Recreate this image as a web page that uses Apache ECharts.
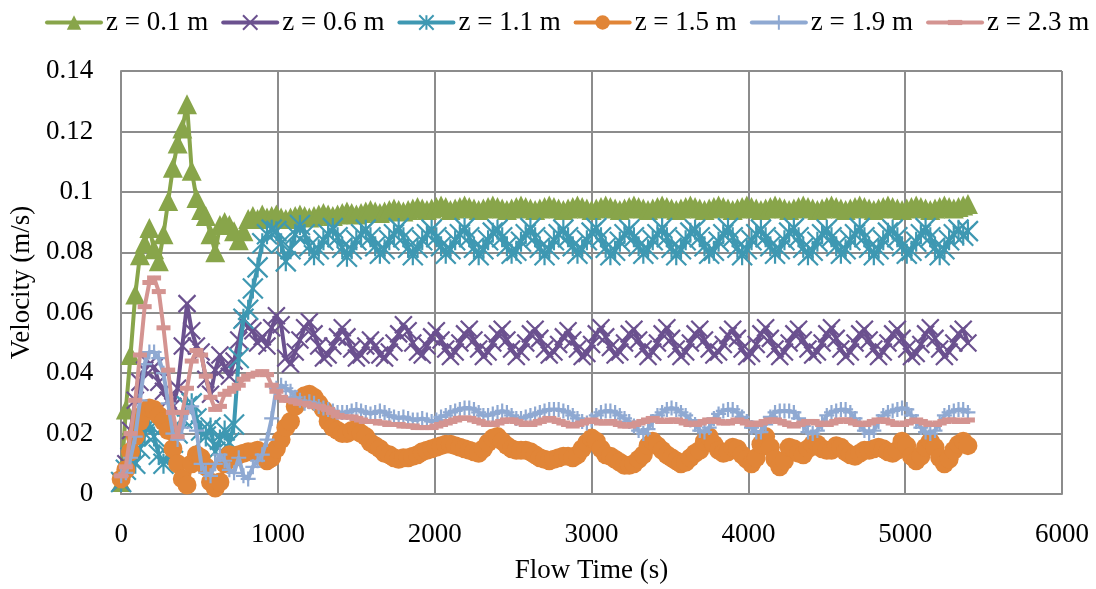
<!DOCTYPE html>
<html>
<head>
<meta charset="utf-8">
<script src="https://cdn.jsdelivr.net/npm/echarts@6/dist/echarts.min.js"></script>
<style>
html,body{margin:0;padding:0;background:#fff;}
#chart{width:1096px;height:589px;}
</style>
</head>
<body>
<div id="chart"></div>
<script>
// ---- DATA ----
const TIME_S = [
0,30,60,90,120,150,180,210,240,270,
300,330,360,390,420,450,480,510,540,570,
600,630,660,690,720,750,780,810,840,870,
900,930,960,990,1020,1050,1080,1110,1140,1170,
1200,1230,1260,1290,1320,1350,1380,1410,1440,1470,
1500,1530,1560,1590,1620,1650,1680,1710,1740,1770,
1800,1830,1860,1890,1920,1950,1980,2010,2040,2070,
2100,2130,2160,2190,2220,2250,2280,2310,2340,2370,
2400,2430,2460,2490,2520,2550,2580,2610,2640,2670,
2700,2730,2760,2790,2820,2850,2880,2910,2940,2970,
3000,3030,3060,3090,3120,3150,3180,3210,3240,3270,
3300,3330,3360,3390,3420,3450,3480,3510,3540,3570,
3600,3630,3660,3690,3720,3750,3780,3810,3840,3870,
3900,3930,3960,3990,4020,4050,4080,4110,4140,4170,
4200,4230,4260,4290,4320,4350,4380,4410,4440,4470,
4500,4530,4560,4590,4620,4650,4680,4710,4740,4770,
4800,4830,4860,4890,4920,4950,4980,5010,5040,5070,
5100,5130,5160,5190,5220,5250,5280,5310,5340,5370,
5400];

const SERIES_NAMES = ['z = 0.1 m','z = 0.6 m','z = 1.1 m','z = 1.5 m','z = 1.9 m','z = 2.3 m'];

const V_Z01 = [
0.004,0.028,0.046,0.066,0.079,0.083,0.088,0.081,0.077,0.086,
0.097,0.108,0.116,0.121,0.129,0.107,0.098,0.094,0.092,0.086,
0.080,0.089,0.090,0.089,0.087,0.084,0.087,0.091,0.092,0.091,
0.0925,0.0915,0.092,0.0925,0.0915,0.091,0.0915,0.092,0.0925,0.092,
0.0915,0.092,0.0925,0.093,0.0925,0.092,0.0925,0.093,0.0935,0.093,
0.0925,0.093,0.0935,0.094,0.0935,0.093,0.0935,0.094,0.0945,0.094,
0.0935,0.094,0.0945,0.095,0.0945,0.094,0.0945,0.095,0.0955,0.095,
0.094,0.0945,0.095,0.0955,0.095,0.0945,0.094,0.0945,0.095,0.0955,
0.095,0.0945,0.094,0.0945,0.095,0.0955,0.095,0.0945,0.094,0.0945,
0.095,0.0955,0.095,0.0945,0.094,0.0945,0.095,0.0955,0.095,0.0945,
0.094,0.0945,0.095,0.0955,0.095,0.0945,0.094,0.0945,0.095,0.0955,
0.095,0.0945,0.094,0.0945,0.095,0.0955,0.095,0.0945,0.094,0.0945,
0.095,0.0955,0.095,0.0945,0.094,0.0945,0.095,0.0955,0.095,0.0945,
0.094,0.0945,0.095,0.0955,0.095,0.0945,0.094,0.0945,0.095,0.0955,
0.095,0.0945,0.094,0.0945,0.095,0.0955,0.095,0.0945,0.094,0.0945,
0.095,0.0955,0.095,0.0945,0.094,0.0945,0.095,0.0955,0.095,0.0945,
0.094,0.0945,0.095,0.0955,0.095,0.0945,0.094,0.0945,0.095,0.0955,
0.095,0.0945,0.094,0.0945,0.095,0.0955,0.095,0.0945,0.095,0.0955,
0.096];

const V_Z06 = [
0.004,0.010,0.021,0.031,0.037,0.041,0.043,0.042,0.037,0.034,
0.031,0.029,0.035,0.049,0.063,0.054,0.049,0.047,0.038,0.033,
0.041,0.046,0.042,0.039,0.044,0.051,0.058,0.055,0.054,0.050,
0.052,0.049,0.055,0.059,0.056,0.045,0.043,0.047,0.051,0.055,
0.057,0.053,0.049,0.045,0.046,0.049,0.052,0.055,0.052,0.048,
0.045,0.046,0.049,0.051,0.049,0.046,0.045,0.047,0.050,0.053,
0.056,0.054,0.050,0.047,0.046,0.049,0.052,0.054,0.051,0.048,
0.0455,0.047,0.050,0.053,0.0545,0.051,0.048,0.0455,0.047,0.050,
0.053,0.0545,0.051,0.048,0.0455,0.047,0.050,0.053,0.0545,0.0515,
0.048,0.046,0.047,0.0495,0.052,0.054,0.051,0.048,0.0455,0.0465,
0.0495,0.053,0.055,0.052,0.0485,0.046,0.047,0.050,0.053,0.0545,
0.051,0.048,0.0455,0.047,0.050,0.053,0.055,0.0515,0.048,0.0455,
0.047,0.050,0.053,0.0545,0.051,0.048,0.046,0.047,0.0495,0.0525,
0.0545,0.0515,0.048,0.0455,0.0465,0.0495,0.053,0.055,0.0515,0.048,
0.0455,0.047,0.050,0.053,0.0545,0.051,0.048,0.046,0.047,0.050,
0.053,0.055,0.0515,0.048,0.0455,0.047,0.050,0.053,0.0545,0.051,
0.048,0.0455,0.047,0.050,0.053,0.0545,0.0515,0.048,0.0455,0.0465,
0.0495,0.053,0.055,0.0515,0.048,0.0455,0.047,0.050,0.053,0.0545,
0.050];

const V_Z11 = [
0.004,0.008,0.012,0.010,0.015,0.020,0.023,0.019,0.013,0.010,
0.013,0.017,0.020,0.025,0.029,0.030,0.025,0.021,0.019,0.022,
0.014,0.018,0.021,0.017,0.023,0.045,0.058,0.061,0.068,0.075,
0.083,0.086,0.0875,0.087,0.083,0.077,0.081,0.086,0.089,0.086,
0.082,0.079,0.081,0.084,0.086,0.088,0.085,0.0815,0.0785,0.081,
0.084,0.086,0.0875,0.085,0.082,0.0795,0.081,0.084,0.086,0.088,
0.085,0.0815,0.079,0.0815,0.084,0.086,0.0875,0.085,0.082,0.0795,
0.081,0.084,0.086,0.088,0.085,0.0815,0.079,0.081,0.084,0.0865,
0.0875,0.085,0.082,0.0795,0.0805,0.0835,0.086,0.088,0.085,0.0815,
0.079,0.081,0.084,0.086,0.0875,0.085,0.082,0.0795,0.081,0.084,
0.0865,0.088,0.085,0.0815,0.079,0.0805,0.0835,0.086,0.0875,0.085,
0.082,0.0795,0.081,0.084,0.086,0.088,0.085,0.0815,0.079,0.081,
0.084,0.0865,0.0875,0.085,0.082,0.0795,0.0805,0.0835,0.086,0.088,
0.085,0.0815,0.079,0.081,0.084,0.086,0.0875,0.085,0.082,0.0795,
0.081,0.084,0.0865,0.088,0.085,0.0815,0.079,0.0805,0.0835,0.086,
0.0875,0.085,0.082,0.0795,0.081,0.084,0.086,0.088,0.085,0.0815,
0.079,0.081,0.084,0.0865,0.0875,0.085,0.082,0.0795,0.0805,0.0835,
0.086,0.088,0.085,0.0815,0.079,0.081,0.084,0.086,0.0875,0.0855,
0.087];

const V_Z15 = [
0.005,0.008,0.014,0.019,0.024,0.027,0.0285,0.028,0.026,0.024,
0.021,0.015,0.010,0.005,0.003,0.010,0.013,0.012,0.009,0.004,
0.002,0.004,0.010,0.013,0.012,0.013,0.0135,0.014,0.014,0.0145,
0.013,0.011,0.012,0.015,0.018,0.022,0.024,0.029,0.031,0.0325,
0.033,0.032,0.030,0.028,0.024,0.022,0.021,0.020,0.020,0.021,
0.0215,0.020,0.019,0.017,0.016,0.015,0.0135,0.013,0.012,0.0115,
0.012,0.012,0.0125,0.013,0.014,0.0145,0.015,0.0155,0.016,0.0165,
0.0165,0.016,0.0155,0.015,0.0145,0.014,0.0135,0.015,0.017,0.0185,
0.019,0.0175,0.016,0.015,0.0145,0.0145,0.0145,0.014,0.013,0.012,
0.0115,0.011,0.0115,0.012,0.0125,0.0125,0.012,0.013,0.015,0.017,
0.0185,0.0175,0.015,0.013,0.0125,0.0115,0.0105,0.0095,0.0095,0.010,
0.0115,0.013,0.016,0.0175,0.016,0.0145,0.013,0.012,0.011,0.010,
0.0105,0.012,0.0135,0.0145,0.0175,0.019,0.0165,0.0145,0.0135,0.014,
0.0155,0.015,0.013,0.0115,0.010,0.012,0.0165,0.019,0.0155,0.0115,
0.009,0.011,0.0155,0.015,0.0135,0.013,0.015,0.0165,0.0165,0.015,
0.0145,0.0145,0.016,0.0155,0.014,0.013,0.0125,0.0135,0.0145,0.0145,
0.015,0.0155,0.015,0.014,0.0135,0.0145,0.0175,0.016,0.0125,0.011,
0.0125,0.0155,0.0175,0.0155,0.012,0.010,0.0115,0.0145,0.0165,0.0175,
0.016];

const V_Z19 = [
0.006,0.007,0.012,0.019,0.031,0.043,0.047,0.047,0.045,0.040,
0.030,0.020,0.018,0.022,0.027,0.029,0.021,0.010,0.007,0.006,
0.010,0.013,0.011,0.008,0.007,0.012,0.006,0.005,0.009,0.011,
0.013,0.018,0.025,0.035,0.036,0.035,0.034,0.032,0.031,0.030,
0.0305,0.030,0.029,0.0285,0.028,0.0275,0.027,0.027,0.027,0.0275,
0.028,0.0275,0.027,0.0265,0.027,0.0275,0.027,0.026,0.0255,0.025,
0.0255,0.025,0.0245,0.0245,0.025,0.0245,0.024,0.0245,0.0255,0.026,
0.027,0.0275,0.028,0.0285,0.0285,0.028,0.027,0.026,0.026,0.0265,
0.027,0.0275,0.027,0.026,0.025,0.025,0.0255,0.026,0.0265,0.027,
0.0275,0.028,0.028,0.028,0.0275,0.027,0.026,0.025,0.024,0.0235,
0.0245,0.026,0.027,0.0275,0.0275,0.027,0.026,0.025,0.024,0.0225,
0.021,0.020,0.0215,0.024,0.026,0.027,0.028,0.0285,0.028,0.027,
0.026,0.0245,0.023,0.021,0.0205,0.022,0.025,0.0265,0.0275,0.028,
0.028,0.027,0.0255,0.024,0.022,0.0205,0.0205,0.023,0.0255,0.027,
0.0275,0.0275,0.0275,0.027,0.025,0.0225,0.0205,0.020,0.021,0.0235,
0.026,0.027,0.0275,0.028,0.028,0.027,0.025,0.023,0.021,0.020,
0.021,0.024,0.026,0.027,0.0275,0.028,0.0285,0.028,0.026,0.024,
0.022,0.0205,0.020,0.021,0.0235,0.026,0.027,0.0275,0.028,0.028,
0.027];

const V_Z23 = [
0.006,0.009,0.020,0.031,0.046,0.062,0.070,0.0715,0.067,0.055,
0.041,0.027,0.019,0.027,0.035,0.044,0.0475,0.046,0.039,0.032,
0.028,0.029,0.033,0.034,0.035,0.036,0.038,0.039,0.0395,0.040,
0.0405,0.0395,0.036,0.034,0.032,0.031,0.031,0.0305,0.030,0.030,
0.0295,0.029,0.029,0.0285,0.028,0.027,0.026,0.0255,0.0255,0.0255,
0.025,0.0245,0.024,0.024,0.024,0.0235,0.0235,0.023,0.023,0.023,
0.0225,0.0225,0.0225,0.022,0.022,0.022,0.022,0.0225,0.023,0.0235,
0.024,0.0245,0.025,0.0252,0.025,0.0245,0.024,0.0235,0.023,0.023,
0.0235,0.024,0.0245,0.0245,0.024,0.0235,0.023,0.023,0.0235,0.024,
0.0245,0.025,0.0245,0.024,0.0235,0.023,0.0225,0.023,0.0235,0.024,
0.0245,0.024,0.0235,0.0235,0.024,0.0235,0.023,0.0225,0.0225,0.023,
0.0235,0.024,0.0245,0.025,0.0245,0.024,0.024,0.0245,0.0245,0.024,
0.0235,0.023,0.023,0.0235,0.024,0.0245,0.0245,0.024,0.0235,0.0235,
0.024,0.0245,0.024,0.0235,0.023,0.023,0.0235,0.024,0.0245,0.0245,
0.024,0.0235,0.023,0.0225,0.023,0.0235,0.024,0.024,0.0235,0.023,
0.023,0.0235,0.024,0.0245,0.0245,0.024,0.0235,0.023,0.023,0.0235,
0.024,0.0245,0.0245,0.024,0.0235,0.023,0.023,0.0235,0.024,0.0245,
0.024,0.0235,0.023,0.023,0.0235,0.024,0.0245,0.0245,0.024,0.024,
0.0245];

// ---- STYLE ----
const FONT = 'Liberation Serif';
const COLORS = ['#88a54a', '#6b518f', '#3e98b2', '#e18537', '#8fa9d2', '#d49491'];
const SYMBOLS = [
  'triangle',
  'path://M0,0L10,10M10,0L0,10',
  'path://M0,0L10,10M10,0L0,10M5,0L5,10',
  'circle',
  'path://M5,0L5,10M0,5L10,5',
  'path://M0,0M0,3.2L10,3.2L10,6.8L0,6.8ZM10,10'
];
const SYMBOL_SIZES = [20, 17, 20, 19, 15, 14];
const STROKED = [false, true, true, false, true, false];
const VALUES = [V_Z01, V_Z06, V_Z11, V_Z15, V_Z19, V_Z23];

const series = SERIES_NAMES.map((name, k) => ({
  name: name,
  type: 'line',
  data: TIME_S.map((t, i) => [t, VALUES[k][i]]),
  symbol: SYMBOLS[k],
  symbolSize: SYMBOL_SIZES[k],
  showAllSymbol: true,
  lineStyle: { color: COLORS[k], width: 4, join: 'round', cap: 'round' },
  itemStyle: STROKED[k]
    ? { color: COLORS[k], borderColor: COLORS[k], borderWidth: 2.2 }
    : { color: COLORS[k], borderWidth: 0 },
  emphasis: { disabled: true },
  z: 2 + k
}));

const chart = echarts.init(document.getElementById('chart'), null, { renderer: 'canvas' });
chart.setOption({
  animation: false,
  backgroundColor: '#ffffff',
  color: COLORS,
  textStyle: { fontFamily: FONT, color: '#000' },
  legend: {
    data: SERIES_NAMES,
    left: 40,
    top: 4,
    itemWidth: 54,
    itemHeight: 18,
    itemGap: 13,
    lineStyle: { width: 4 },
    itemStyle: { borderWidth: 2 },
    textStyle: { fontFamily: FONT, fontSize: 27, color: '#000' }
  },
  grid: { left: 116.5, right: 34, top: 71, bottom: 88, containLabel: false },
  xAxis: {
    type: 'value',
    min: 0, max: 6000, interval: 1000,
    name: 'Flow Time (s)',
    nameLocation: 'middle',
    nameGap: 63,
    nameTextStyle: { fontFamily: FONT, fontSize: 27, color: '#000' },
    axisLine: { show: true, lineStyle: { color: '#8c8c8c', width: 2 } },
    axisTick: { show: false },
    axisLabel: { fontFamily: FONT, fontSize: 27, color: '#000', margin: 27,
                 formatter: function (v) { return String(v); } },
    splitLine: { show: true, lineStyle: { color: '#8c8c8c', width: 2 } }
  },
  yAxis: {
    type: 'value',
    min: 0, max: 0.14, interval: 0.02,
    name: 'Velocity (m/s)',
    nameLocation: 'middle',
    nameGap: 80,
    nameTextStyle: { fontFamily: FONT, fontSize: 27, color: '#000' },
    axisLine: { show: true, lineStyle: { color: '#8c8c8c', width: 2 } },
    axisTick: { show: false },
    axisLabel: { fontFamily: FONT, fontSize: 27, color: '#000', margin: 28 },
    splitLine: { show: true, lineStyle: { color: '#8c8c8c', width: 2 } }
  },
  series: series
});
</script>
</body>
</html>
